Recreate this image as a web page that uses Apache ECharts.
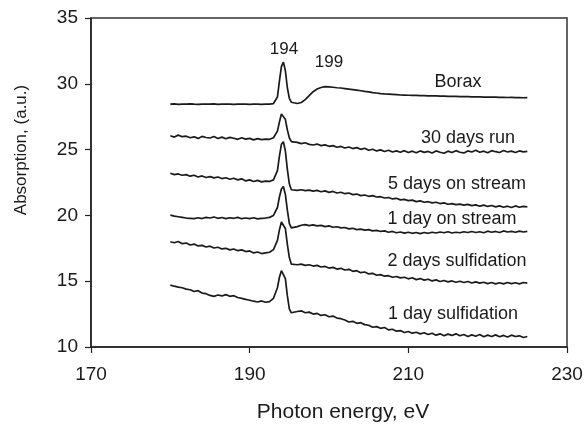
<!DOCTYPE html>
<html>
    <head>
        <meta charset="utf-8">
        <title>Absorption spectra</title>
        <script src="https://cdn.jsdelivr.net/npm/echarts@6/dist/echarts.min.js"></script>
        <style>
            html, body { margin: 0; padding: 0; background: #fff; }
            #chart1 { width: 587px; height: 424px; }
        </style>
    </head>
    <body>
        <div id="chart1"></div>
        <script type="text/javascript">
            // photon energy (eV), shared by all spectra
            var energy = [
                180,180.5,181,181.5,182,182.5,183,183.5,184,184.5,
                185,185.5,186,186.5,187,187.5,188,188.5,189,189.5,
                190,190.5,191,191.5,192,192.5,
                193,193.5,193.75,194,194.25,194.5,194.75,195,195.25,195.5,196,
                196.5,197,197.5,198,198.5,199,199.5,200,200.5,201,
                201.5,202,202.5,203,203.5,204,204.5,205,205.5,206,
                206.5,207,207.5,208,208.5,209,209.5,210,210.5,211,
                211.5,212,212.5,213,213.5,214,214.5,215,215.5,216,
                216.5,217,217.5,218,218.5,219,219.5,220,220.5,221,
                221.5,222,222.5,223,223.5,224,224.5,225
            ];

            var borax = [
                28.45,28.47,28.44,28.46,28.45,28.48,28.45,28.44,28.46,28.45,
                28.45,28.47,28.44,28.45,28.46,28.45,28.44,28.45,28.46,28.45,
                28.44,28.45,28.45,28.44,28.45,28.46,
                28.5,29.0,30.2,31.3,31.65,31.0,29.7,28.9,28.6,28.5,28.5,
                28.58,28.8,29.1,29.4,29.6,29.72,29.78,29.77,29.74,29.7,
                29.68,29.64,29.6,29.56,29.52,29.47,29.42,29.38,29.33,29.3,
                29.26,29.23,29.21,29.19,29.17,29.15,29.14,29.13,29.12,29.12,
                29.1,29.1,29.09,29.08,29.08,29.06,29.07,29.05,29.04,29.05,
                29.03,29.02,29.03,29.01,29.0,29.01,28.99,28.99,28.98,28.99,
                28.97,28.97,28.96,28.97,28.95,28.96,28.94,28.95
            ];

            var days30Run = [
                26.05,25.95,26.1,25.98,26.02,25.9,25.97,25.85,26.0,25.92,
                25.88,25.99,25.84,25.95,25.82,25.93,25.86,25.78,25.9,25.8,
                25.85,25.74,25.83,25.76,25.8,25.78,
                25.9,26.4,27.1,27.7,27.85,27.3,26.5,25.9,25.6,25.5,25.55,
                25.45,25.52,25.4,25.35,25.42,25.3,25.36,25.25,25.3,25.18,
                25.24,25.12,25.2,25.08,25.15,25.02,25.1,24.95,25.03,24.9,
                24.98,24.86,24.95,24.82,24.9,24.8,24.92,24.78,24.88,24.76,
                24.9,24.79,24.86,24.74,24.9,24.8,24.72,24.88,24.78,24.92,
                24.8,24.75,24.9,24.82,24.95,24.8,24.88,24.76,24.92,24.84,
                24.78,24.93,24.82,24.88,24.78,24.9,24.83,24.86
            ];

            var days5Stream = [
                23.2,23.1,23.15,23.05,23.1,22.98,23.05,22.92,23.0,22.88,
                22.95,22.85,22.92,22.8,22.86,22.75,22.82,22.7,22.78,22.62,
                22.7,22.58,22.66,22.55,22.6,22.58,
                22.7,23.4,24.5,25.4,25.6,24.9,23.5,22.4,21.95,21.85,21.9,
                21.95,21.88,21.92,21.85,21.9,21.8,21.86,21.75,21.82,21.7,
                21.76,21.65,21.7,21.58,21.62,21.5,21.55,21.45,21.5,21.4,
                21.42,21.32,21.36,21.25,21.3,21.18,21.22,21.12,21.16,21.05,
                21.1,21.0,21.04,20.95,21.0,20.9,20.95,20.85,20.9,20.82,
                20.86,20.78,20.84,20.74,20.8,20.7,20.78,20.68,20.75,20.65,
                20.72,20.62,20.7,20.6,20.72,20.62,20.68,20.65
            ];

            var day1Stream = [
                20.02,19.95,19.9,19.85,19.8,19.78,19.75,19.82,19.76,19.85,
                19.8,19.88,19.78,19.84,19.76,19.82,19.78,19.85,19.75,19.8,
                19.76,19.82,19.74,19.78,19.8,19.85,
                20.0,20.6,21.4,22.0,22.2,21.6,20.4,19.4,19.05,19.0,19.15,
                19.25,19.3,19.22,19.28,19.2,19.24,19.15,19.2,19.1,19.14,
                19.05,19.08,18.98,19.02,18.92,18.96,18.88,18.92,18.82,18.86,
                18.78,18.82,18.72,18.78,18.68,18.74,18.65,18.72,18.64,18.7,
                18.62,18.7,18.64,18.72,18.66,18.74,18.68,18.76,18.66,18.72,
                18.68,18.76,18.7,18.78,18.7,18.76,18.68,18.8,18.72,18.78,
                18.7,18.82,18.74,18.78,18.72,18.8,18.74,18.78
            ];

            var days2Sulf = [
                18.0,17.92,18.02,17.85,17.9,17.75,17.82,17.68,17.72,17.6,
                17.66,17.52,17.58,17.45,17.5,17.38,17.45,17.32,17.38,17.25,
                17.3,17.15,17.22,17.1,17.15,17.2,
                17.4,18.1,18.9,19.5,19.65,19.0,17.8,16.8,16.3,16.15,16.25,
                16.3,16.2,16.25,16.15,16.2,16.08,16.12,16.0,16.05,15.92,
                15.98,15.85,15.9,15.75,15.8,15.65,15.7,15.55,15.6,15.45,
                15.5,15.38,15.42,15.3,15.36,15.25,15.3,15.18,15.26,15.12,
                15.2,15.08,15.15,15.02,15.1,14.98,15.05,14.95,15.02,14.92,
                15.0,14.9,14.98,14.86,14.95,14.85,14.92,14.82,14.9,14.8,
                14.88,14.8,14.9,14.82,14.88,14.8,14.9,14.86
            ];

            var day1Sulf = [
                14.7,14.62,14.55,14.5,14.4,14.35,14.22,14.28,14.1,14.05,
                13.92,13.85,13.95,13.88,13.98,13.85,13.9,13.76,13.7,13.62,
                13.55,13.48,13.42,13.5,13.4,13.45,
                13.7,14.5,15.3,15.8,15.85,15.2,13.9,12.9,12.6,12.55,12.7,
                12.75,12.6,12.65,12.5,12.55,12.4,12.45,12.3,12.35,12.2,
                12.15,12.05,11.9,11.95,11.8,11.85,11.7,11.65,11.5,11.55,
                11.42,11.48,11.3,11.35,11.2,11.25,11.1,11.18,11.05,11.12,
                11.0,11.08,10.95,11.05,10.9,11.0,10.85,10.98,10.88,11.0,
                10.85,10.95,10.8,10.92,10.82,10.95,10.78,10.9,10.8,10.92,
                10.78,10.88,10.76,10.9,10.8,10.85,10.72,10.8
            ];

            var seriesNames = ['Borax', '30 days run', '5 days on stream', '1 day on stream', '2 days sulfidation', '1 day sulfidation'];
            var seriesValues = [borax, days30Run, days5Stream, day1Stream, days2Sulf, day1Sulf];

            var FONT = '"Liberation Sans", Arial, Helvetica, sans-serif';
            var INK = '#1a1a1a';

            // label text and where it sits (px)
            var labels = [
                { text: '194', x: 284, y: 49, size: 17 },
                { text: '199', x: 329, y: 62, size: 17 },
                { text: 'Borax', x: 458, y: 82, size: 18 },
                { text: '30 days run', x: 468, y: 138, size: 18 },
                { text: '5 days on stream', x: 457, y: 184, size: 18 },
                { text: '1 day on stream', x: 452, y: 219, size: 18 },
                { text: '2 days sulfidation', x: 457, y: 261, size: 18 },
                { text: '1 day sulfidation', x: 453, y: 314, size: 18 }
            ];

            function pairs(ys) {
                var out = [];
                for (var i = 0; i < energy.length; i++) {
                    out.push([energy[i], ys[i]]);
                }
                return out;
            }

            var series = [];
            for (var s = 0; s < seriesValues.length; s++) {
                series.push({
                    name: seriesNames[s],
                    type: 'line',
                    data: pairs(seriesValues[s]),
                    showSymbol: false,
                    silent: true,
                    lineStyle: { color: INK, width: 1.7 }
                });
            }

            var graphics = [];
            labels.forEach(function (l) {
                graphics.push({
                    type: 'text',
                    x: l.x,
                    y: l.y,
                    silent: true,
                    style: {
                        text: l.text,
                        fill: INK,
                        font: l.size + 'px ' + FONT,
                        align: 'center',
                        verticalAlign: 'middle'
                    }
                });
            });
            // axis titles
            graphics.push({
                type: 'text', x: 343, y: 412, silent: true,
                style: { text: 'Photon energy, eV', fill: INK, font: '21px ' + FONT, align: 'center', verticalAlign: 'middle' }
            });
            graphics.push({
                type: 'text', x: 21, y: 150, rotation: Math.PI / 2, silent: true,
                style: { text: 'Absorption, (a.u.)', fill: INK, font: '17px ' + FONT, align: 'center', verticalAlign: 'middle' }
            });

            var myChart1 = echarts.init(document.getElementById('chart1'));
            myChart1.setOption({
                animation: false,
                backgroundColor: '#fff',
                grid: {
                    left: 91, right: 20, top: 18, bottom: 77,
                    show: true, borderColor: '#333', borderWidth: 1.5,
                    backgroundColor: 'transparent'
                },
                xAxis: {
                    type: 'value', min: 170, max: 230, interval: 20,
                    axisLine: { lineStyle: { color: '#222', width: 1.5 } },
                    axisTick: { inside: false, length: 6, lineStyle: { color: '#222', width: 1.2 } },
                    axisLabel: { color: INK, fontSize: 19, fontFamily: FONT, margin: 18 },
                    splitLine: { show: false }
                },
                yAxis: {
                    type: 'value', min: 10, max: 35, interval: 5,
                    axisLine: { show: true, lineStyle: { color: '#222', width: 1.5 } },
                    axisTick: { show: true, inside: false, length: 6, lineStyle: { color: '#222', width: 1.2 } },
                    axisLabel: { color: INK, fontSize: 19, fontFamily: FONT, margin: 13 },
                    splitLine: { show: false }
                },
                graphic: graphics,
                series: series
            });
        </script>
    </body>
</html>
